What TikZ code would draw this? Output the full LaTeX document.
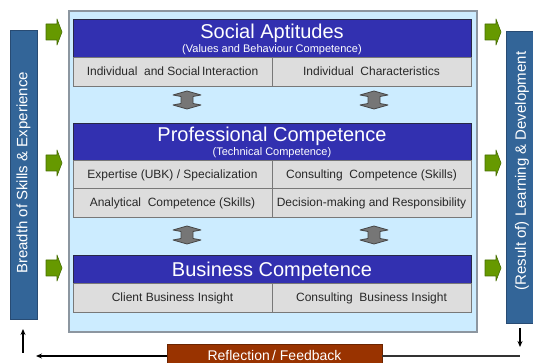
\documentclass[tikz,border=0pt]{standalone}
\usepackage{fontspec}
\setmainfont{Liberation Sans}
\usetikzlibrary{arrows.meta,calc}
\definecolor{bgblue}{RGB}{204,236,255}
\definecolor{bgedge}{RGB}{140,150,160}
\definecolor{bandblue}{RGB}{50,48,176}
\definecolor{bandedge}{RGB}{40,40,70}
\definecolor{cellgray}{RGB}{221,221,221}
\definecolor{celledge}{RGB}{120,120,120}
\definecolor{barblue}{RGB}{51,101,152}
\definecolor{baredge}{RGB}{40,75,115}
\definecolor{gfill}{RGB}{102,153,0}
\definecolor{gedge}{RGB}{70,110,0}
\definecolor{rfill}{RGB}{153,51,0}
\definecolor{afill}{RGB}{118,118,118}
\definecolor{aedge}{RGB}{70,70,70}
\definecolor{celltext}{RGB}{40,40,40}
\begin{document}
\begin{tikzpicture}[x=1pt,y=-1pt,
  box/.style={draw, line width=0.8pt, outer sep=0pt, inner sep=0pt},
  band/.style={box, fill=bandblue, draw=bandedge, minimum width=398pt},
  cell/.style={box, fill=cellgray, draw=celledge, minimum width=199pt,
    text height=8.6pt, text depth=0pt, text=celltext,
    font=\fontsize{12}{14}\selectfont},
  titletext/.style={anchor=base, inner sep=0pt, text=white,
    font=\fontsize{20}{24}\selectfont},
  subtext/.style={anchor=base, inner sep=0pt, text=white,
    font=\fontsize{11}{13}\selectfont},
  sidebar/.style={box, fill=barblue, draw=baredge, minimum width=27pt},
  sidetext/.style={rotate=90, inner sep=0pt, text=white,
    font=\fontsize{15}{18}\selectfont},
  greenarrow/.style={fill=gfill, draw=gedge, line width=0.6pt, line join=round},
  dblarrow/.style={fill=afill, draw=aedge, line width=0.8pt, line join=round},
  arr/.style={draw=black, line width=1.2pt, -{Stealth[length=6pt,width=5pt]}},
  plain/.style={draw=black!80, line width=1.2pt}
]
\useasboundingbox (0,0) rectangle (533,363);
\clip (0,0) rectangle (533,363);

% background panel
\node[box, fill=bgblue, draw=bgedge, line width=1.2pt,
  minimum width=408pt, minimum height=321pt] (panel) at (273,171.5) {};

% Social Aptitudes
\node[band, minimum height=38pt] (saband) at (272,38) {};
\node[titletext] (sat) at (272,39) {Social Aptitudes};
\node[subtext] (sas) at (272,53) {(Values and Behaviour Competence)};
\node[cell, minimum height=29pt] (sa1) at (172.5,71.5) {Individual\ \ and Social\,Interaction};
\node[cell, minimum height=29pt] (sa2) at (371.5,71.5) {Individual\ \ Characteristics};

% Professional Competence
\node[band, minimum height=37pt] (pcband) at (272,141.5) {};
\node[titletext] (pct) at (272,142) {Professional Competence};
\node[subtext] (pcs) at (272,156) {(Technical Competence)};
\node[cell, minimum height=28pt] (pc1) at (172.5,174) {Expertise (UBK) / Specialization};
\node[cell, minimum height=28pt] (pc2) at (371.5,174) {Consulting\ \ Competence (Skills)};
\node[cell, minimum height=29pt] (pc3) at (172.5,202.5) {Analytical\ \ Competence (Skills)};
\node[cell, minimum height=29pt] (pc4) at (371.5,202.5) {Decision-making and Responsibility};

% Business Competence
\node[band, minimum height=28pt] (bcband) at (272,269) {};
\node[titletext] (bct) at (272,277) {Business Competence};
\node[cell, minimum height=29pt] (bc1) at (172.5,297.5) {Client Business Insight};
\node[cell, minimum height=29pt] (bc2) at (371.5,297.5) {Consulting\ \ Business Insight};

% double arrows
\foreach \n/\px/\py in {da1/187/100, da2/374/100, da3/187/235, da4/374/235}{
  \coordinate (\n) at (\px,\py);
  \draw[dblarrow, shift={(\n)}]
    (-14,-5) -- (0,-9) -- (14,-5) -- (6,-3.5) -- (6,3.5) -- (14,5) -- (0,9)
    -- (-14,5) -- (-6,3.5) -- (-6,-3.5) -- cycle;
}

% side bars
\node[sidebar, minimum height=289pt] (lb) at (23.5,174.5) {};
\node[sidetext] (lbt) at (23.5,173) {Breadth of Skills \& Experience};
\node[sidebar, minimum width=34pt, minimum height=292pt] (rb) at (523,177) {};
\node[sidetext] (rbt) at (522,171) {(Result of) Learning \& Development};

% green arrows
\foreach \n/\px/\py in {gl1/46/32, gl2/46/163, gl3/46/268, gr1/485/32, gr2/485/163, gr3/485/268}{
  \coordinate (\n) at (\px,\py);
  \draw[greenarrow, shift={(\n)}]
    (0,-8) -- (11,-8) -- (11,-13) -- (16,0) -- (11,13) -- (11,8) -- (0,8) -- cycle;
}

% reflection / feedback
\node[box, fill=rfill, draw=rfill!70!black, minimum width=215pt, minimum height=24pt,
  text=white, font=\fontsize{14}{16}\selectfont, text height=10pt, text depth=0pt]
  (refl) at (274.5,356) {Reflection\,/ Feedback};
\coordinate (fbL) at (36,356);
\coordinate (fbR) at (520,356);
\draw[arr] (refl.west) -- (fbL);
\draw[plain] (refl.east) -- (fbR);
\coordinate (upS) at (23,353);
\coordinate (upE) at (23,329);
\draw[arr] (upS) -- (upE);
\coordinate (dnS) at (520,328);
\coordinate (dnE) at (520,347);
\draw[arr] (dnS) -- (dnE);
\end{tikzpicture}
\end{document}
